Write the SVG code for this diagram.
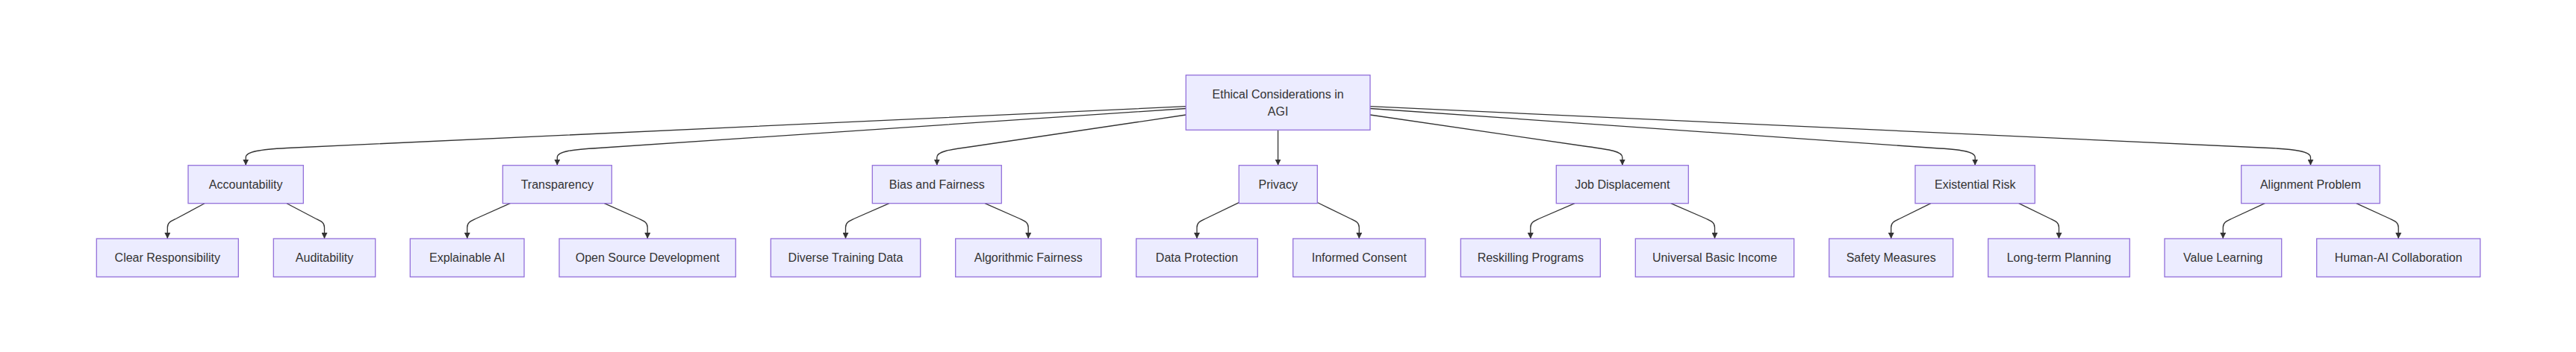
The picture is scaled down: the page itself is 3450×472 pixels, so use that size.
<svg xmlns="http://www.w3.org/2000/svg" width="3450" height="472" viewBox="0 0 3450 472">
<style>
.node rect{fill:#ECECFF;stroke:#9370DB;stroke-width:1.3}
.node text{font-family:"Liberation Sans",Arial,sans-serif;font-size:16px;fill:#333;text-anchor:middle;dominant-baseline:central}
.edge{fill:none;stroke:#333;stroke-width:1.3}
</style>
<defs>
<marker id="arr" viewBox="0 0 10 10" refX="10" refY="5" markerWidth="8" markerHeight="8" markerUnits="userSpaceOnUse" orient="auto"><path d="M0,0 L10,5 L0,10 z" fill="#333"/></marker>
</defs>
<rect width="3450" height="472" fill="#ffffff"/>
<g id="connectors">
<path class="edge" marker-end="url(#arr)" d="M1588.3,142.7 L384.2,198.5 C349.2,200.5 329.2,203 329.2,211 L329.2,221.7"/>
<path class="edge" marker-end="url(#arr)" d="M1588.3,145.5 L801.3,198.5 C766.3,200.5 746.3,203 746.3,211 L746.3,221.7"/>
<path class="edge" marker-end="url(#arr)" d="M1588.3,154 L1302,196.5 C1272,200.5 1254.8,203 1254.8,211 L1254.8,221.7"/>
<path class="edge" marker-end="url(#arr)" d="M1711.6,174.3 L1711.6,221.7"/>
<path class="edge" marker-end="url(#arr)" d="M1835,154 L2125.6,196.5 C2155.6,200.5 2172.8,203 2172.8,211 L2172.8,221.7"/>
<path class="edge" marker-end="url(#arr)" d="M1835,145.5 L2590.2,198.5 C2625.2,200.5 2645.2,203 2645.2,211 L2645.2,221.7"/>
<path class="edge" marker-end="url(#arr)" d="M1835,142.7 L3039.5,198.5 C3074.5,200.5 3094.5,203 3094.5,211 L3094.5,221.7"/>
<path class="edge" marker-end="url(#arr)" d="M274,272.7 L236.3,293 C229.3,296.5 224.3,298 224.3,305 L224.3,320"/>
<path class="edge" marker-end="url(#arr)" d="M384,272.7 L422.5,293 C429.5,296.5 434.5,298 434.5,305 L434.5,320"/>
<path class="edge" marker-end="url(#arr)" d="M683.3,272.7 L637.7,293 C630.7,296.5 625.7,298 625.7,305 L625.7,320"/>
<path class="edge" marker-end="url(#arr)" d="M809.3,272.7 L855.2,293 C862.2,296.5 867.2,298 867.2,305 L867.2,320"/>
<path class="edge" marker-end="url(#arr)" d="M1191,272.7 L1144.5,293 C1137.5,296.5 1132.5,298 1132.5,305 L1132.5,320"/>
<path class="edge" marker-end="url(#arr)" d="M1319,272.7 L1365.2,293 C1372.2,296.5 1377.2,298 1377.2,305 L1377.2,320"/>
<path class="edge" marker-end="url(#arr)" d="M1659.3,271.7 L1615,293 C1608,296.5 1603,298 1603,305 L1603,320"/>
<path class="edge" marker-end="url(#arr)" d="M1764.3,271.5 L1808.3,293 C1815.3,296.5 1820.3,298 1820.3,305 L1820.3,320"/>
<path class="edge" marker-end="url(#arr)" d="M2109,272.7 L2061.8,293 C2054.8,296.5 2049.8,298 2049.8,305 L2049.8,320"/>
<path class="edge" marker-end="url(#arr)" d="M2237.7,272.7 L2284.5,293 C2291.5,296.5 2296.5,298 2296.5,305 L2296.5,320"/>
<path class="edge" marker-end="url(#arr)" d="M2586,272.7 L2544.7,293 C2537.7,296.5 2532.7,298 2532.7,305 L2532.7,320"/>
<path class="edge" marker-end="url(#arr)" d="M2703.7,272.7 L2745.5,293 C2752.5,296.5 2757.5,298 2757.5,305 L2757.5,320"/>
<path class="edge" marker-end="url(#arr)" d="M3033.3,272.7 L2989.3,293 C2982.3,296.5 2977.3,298 2977.3,305 L2977.3,320"/>
<path class="edge" marker-end="url(#arr)" d="M3155.7,272.7 L3200.2,293 C3207.2,296.5 3212.2,298 3212.2,305 L3212.2,320"/>
</g>
<g id="root" class="node"><rect x="1588.3" y="100.7" width="246.7" height="73.6"/><text x="1711.6" y="126">Ethical Considerations in</text><text x="1711.6" y="149">AGI</text></g>
<g id="accountability" class="node"><rect x="252" y="221.7" width="154.3" height="51"/><text x="329.2" y="247.2">Accountability</text></g>
<g id="transparency" class="node"><rect x="673.3" y="221.7" width="146" height="51"/><text x="746.3" y="247.2">Transparency</text></g>
<g id="bias" class="node"><rect x="1168.3" y="221.7" width="173" height="51"/><text x="1254.8" y="247.2">Bias and Fairness</text></g>
<g id="privacy" class="node"><rect x="1659.3" y="221.7" width="105" height="51"/><text x="1711.8" y="247.2">Privacy</text></g>
<g id="job" class="node"><rect x="2084.3" y="221.7" width="177" height="51"/><text x="2172.8" y="247.2">Job Displacement</text></g>
<g id="existential" class="node"><rect x="2565" y="221.7" width="160.3" height="51"/><text x="2645.2" y="247.2">Existential Risk</text></g>
<g id="alignment" class="node"><rect x="3001.7" y="221.7" width="185.6" height="51"/><text x="3094.5" y="247.2">Alignment Problem</text></g>
<g id="clear" class="node"><rect x="129.3" y="320" width="190" height="51.3"/><text x="224.3" y="345.7">Clear Responsibility</text></g>
<g id="audit" class="node"><rect x="366.3" y="320" width="136.4" height="51.3"/><text x="434.5" y="345.7">Auditability</text></g>
<g id="explainable" class="node"><rect x="549.3" y="320" width="152.7" height="51.3"/><text x="625.7" y="345.7">Explainable AI</text></g>
<g id="opensource" class="node"><rect x="749" y="320" width="236.3" height="51.3"/><text x="867.2" y="345.7">Open Source Development</text></g>
<g id="diverse" class="node"><rect x="1032.3" y="320" width="200.4" height="51.3"/><text x="1132.5" y="345.7">Diverse Training Data</text></g>
<g id="algorithmic" class="node"><rect x="1279.7" y="320" width="195" height="51.3"/><text x="1377.2" y="345.7">Algorithmic Fairness</text></g>
<g id="dataprot" class="node"><rect x="1521.7" y="320" width="162.6" height="51.3"/><text x="1603" y="345.7">Data Protection</text></g>
<g id="consent" class="node"><rect x="1731.7" y="320" width="177.3" height="51.3"/><text x="1820.3" y="345.7">Informed Consent</text></g>
<g id="reskilling" class="node"><rect x="1956.3" y="320" width="187" height="51.3"/><text x="2049.8" y="345.7">Reskilling Programs</text></g>
<g id="ubi" class="node"><rect x="2190.3" y="320" width="212.4" height="51.3"/><text x="2296.5" y="345.7">Universal Basic Income</text></g>
<g id="safety" class="node"><rect x="2449.7" y="320" width="166" height="51.3"/><text x="2532.7" y="345.7">Safety Measures</text></g>
<g id="longterm" class="node"><rect x="2662.7" y="320" width="189.6" height="51.3"/><text x="2757.5" y="345.7">Long-term Planning</text></g>
<g id="value" class="node"><rect x="2899" y="320" width="156.7" height="51.3"/><text x="2977.3" y="345.7">Value Learning</text></g>
<g id="humanai" class="node"><rect x="3102.7" y="320" width="219" height="51.3"/><text x="3212.2" y="345.7">Human-AI Collaboration</text></g>
</svg>
